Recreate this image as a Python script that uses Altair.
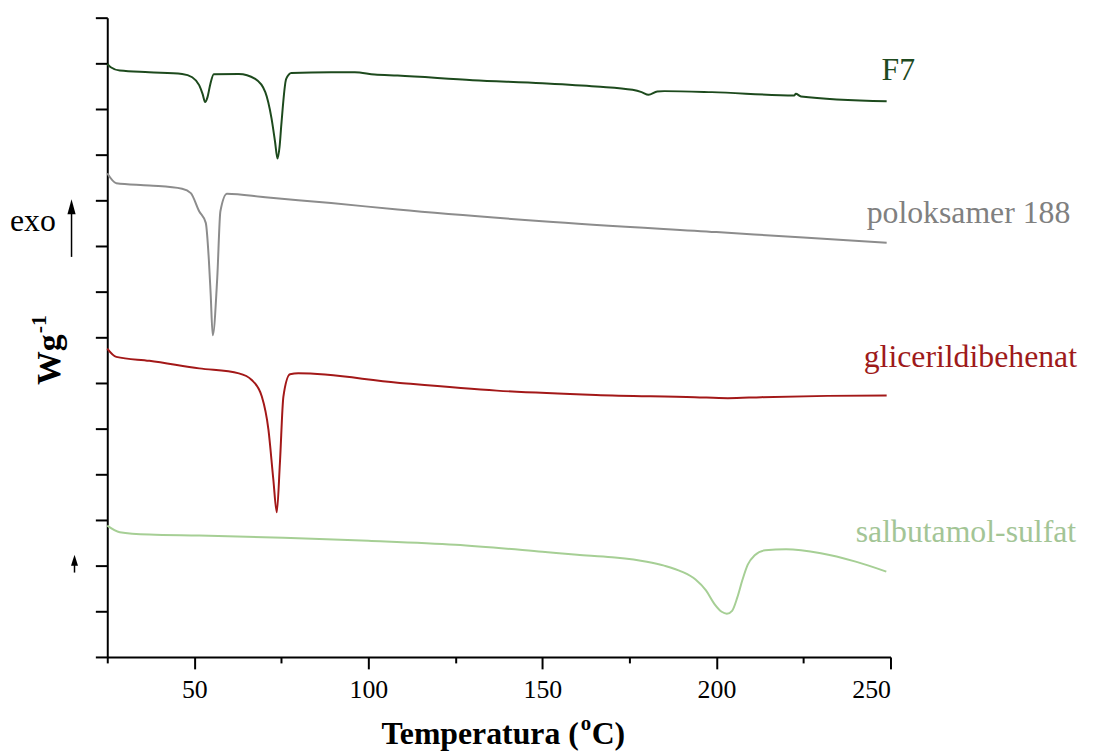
import altair as alt
import pandas as pd

# ---- data (temperature in °C, heat flow in arbitrary stacked units) ----
f7_t = [25, 26, 28.6, 37, 46.5, 49.4, 51.4, 52.4, 53.1, 53.8, 54.6, 55.6, 62.8, 67.5, 70.4, 72.2, 73.2, 73.9,
        74.5, 75, 76.4, 77.9, 89.3, 96.1, 101.8, 108.4, 130, 150, 165.4, 175.9, 178.5, 180.5, 183, 185, 198.7,
        222.4, 222.8, 224.3, 248.9]
f7_v = [597.3, 594, 590.7, 589, 587.3, 584, 576, 567, 559, 564, 577, 587, 587.3, 582.3, 569, 542.3, 519, 502,
        514, 536, 582.3, 588.3, 589, 589, 586.7, 585.7, 581, 578, 574.7, 571.3, 569, 566.3, 569.7, 570, 569,
        565.7, 567.3, 564.7, 559.7]

pol_t = [25, 27.6, 37.1, 46.5, 49, 51.4, 53.3, 54.2, 54.7, 55.3, 56.6, 57.5, 59.4, 70.4, 89.3, 108.4, 150, 200,
         225, 248.9]
pol_v = [487.3, 477.3, 475, 471.7, 467.3, 449, 437.3, 399, 366, 324, 382.3, 449, 466.7, 463, 457.3, 450.7, 439,
         428, 422.6, 417.3]

gli_t = [25, 27.6, 37.1, 51.4, 62.8, 66.5, 69.4, 71.3, 72.7, 73.7, 74.6, 75.6, 77.5, 79.9, 108.4, 136.9, 165.4,
         193.8, 203.3, 212.9, 231.9, 248.9]
gli_v = [310.7, 302.3, 298.3, 290.7, 285.7, 279, 262.3, 229, 179, 145.7, 195.7, 262.3, 284.7, 285.7, 276.3,
         268.3, 264, 261.7, 260.7, 261.7, 263, 263.3]

sal_t = [25, 28.6, 37.1, 51.4, 100, 125, 150, 160, 170, 180, 185, 190, 194, 197, 199.5, 201.5, 203, 204.5, 206,
         207.5, 209, 211, 214, 220, 230, 240, 248.8]
sal_v = [132.3, 125.7, 123.3, 122.3, 117, 113, 106, 103, 100.5, 96, 92, 86, 78, 67, 53, 45.5, 43.5, 46.5, 60,
         78, 93, 102.5, 107.5, 108.5, 104.5, 96, 86]

series_names = ["F7", "poloksamer 188", "glicerildibehenat", "salbutamol-sulfat"]
series_colors = ["#1d4a1d", "#8c8c8c", "#a31818", "#a6cf95"]
label_colors = ["#1f4a1f", "#808080", "#9e1a1a", "#a3c596"]

x_ticks = [25, 50, 75, 100, 125, 150, 175, 200, 225, 250]
y_ticks = [0, 46, 92, 138, 184, 230, 276, 322, 368, 414, 460, 506, 552, 598, 644]

rows = []
for name, ts, vs in zip(series_names, [f7_t, pol_t, gli_t, sal_t], [f7_v, pol_v, gli_v, sal_v]):
    for i, (t, v) in enumerate(zip(ts, vs)):
        rows.append({"series": name, "T": t, "v": v, "order": i})
df = pd.DataFrame(rows)

FONT = "Liberation Serif"
W, H = 789, 644
X0, Y0 = 108, 15  # page position of plot origin


def px(x):
    return x - X0


def py(y):
    return y - Y0


one = pd.DataFrame({"k": [0]})

lines = alt.Chart(df).mark_line(strokeWidth=2, interpolate="monotone").encode(
    x=alt.X("T:Q", scale=alt.Scale(domain=[25, 250], nice=False),
            axis=alt.Axis(values=x_ticks, title=None, grid=False,
                          labelExpr="datum.value % 50 === 0 ? datum.label : ''",
                          tickSize={"condition": {"test": "datum.value % 50 === 0", "value": 12}, "value": 6},
                          labelPadding=8, labelFontSize=26, labelFont=FONT, labelColor="black",
                          domainColor="black", domainWidth=2, tickColor="black", tickWidth=2)),
    y=alt.Y("v:Q", scale=alt.Scale(domain=[0, 644], nice=False),
            axis=alt.Axis(values=y_ticks, labels=False, title=None, grid=False, tickSize=12,
                          domainColor="black", domainWidth=2, tickColor="black", tickWidth=2)),
    color=alt.Color("series:N", scale=alt.Scale(domain=series_names, range=series_colors), legend=None),
    order="order:Q",
)


def text_layer(txt, x, y, size, color="black", weight="normal", align="left", angle=0):
    kw = dict(text=txt, font=FONT, fontSize=size, color=color, fontWeight=weight, align=align,
              baseline="alphabetic")
    if angle:
        kw["angle"] = angle
    return alt.Chart(one).mark_text(**kw).encode(x=alt.value(px(x)), y=alt.value(py(y)))


label_pos = [(888, 78), (873, 222), (870, 367), (862, 543)]
labels = [text_layer(n, x, y, 32, c) for n, (x, y), c in zip(series_names, label_pos, label_colors)]

# axis titles with superscripts
ytitle1 = text_layer("Wg", 60, 385, 34, weight="bold", angle=270)
ytitle2 = text_layer("-1", 46, 333, 22, weight="bold", angle=270)
xtitle1 = text_layer("Temperatura (", 583, 747, 32, weight="bold", align="right")
xtitle2 = text_layer("o", 585, 733, 21, weight="bold")
xtitle3 = text_layer("C)", 596, 747, 32, weight="bold")

exo = text_layer("exo", 10, 230, 32)
arrow_stem = alt.Chart(one).mark_rule(color="black", strokeWidth=1.5).encode(
    x=alt.value(px(72)), y=alt.value(py(212)), y2=alt.value(py(256)))
arrow_head = alt.Chart(one).mark_point(shape="M-0.55,1L0,-1L0.55,1Z", filled=True, color="black",
                                       size=225, opacity=1).encode(
    x=alt.value(px(72)), y=alt.value(py(205.5)))
small_stem = alt.Chart(one).mark_rule(color="black", strokeWidth=1.5).encode(
    x=alt.value(px(75)), y=alt.value(py(566)), y2=alt.value(py(574)))
small_head = alt.Chart(one).mark_point(shape="M-0.64,1L0,-1L0.64,1Z", filled=True, color="black",
                                       size=121, opacity=1).encode(
    x=alt.value(px(75)), y=alt.value(py(561.5)))

chart = alt.layer(lines, *labels, ytitle1, ytitle2, xtitle1, xtitle2, xtitle3,
                  exo, arrow_stem, arrow_head, small_stem, small_head).properties(
    width=W, height=H,
    padding={"left": 100, "top": 7, "right": 202, "bottom": 92},
    autosize=alt.AutoSizeParams(type="none"),
    background="white",
).configure_view(stroke="transparent").configure_axis(labelFont=FONT, labelFontSize=26)

chart.save("out.html", embed_options={"renderer": "svg", "actions": False})
